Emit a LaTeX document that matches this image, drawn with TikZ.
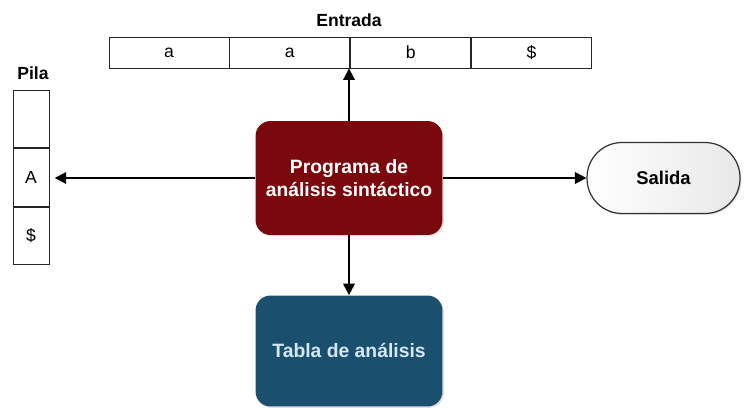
\documentclass[tikz,border=0pt]{standalone}
\usepackage{fontspec}
\setmainfont{Liberation Sans}
\usetikzlibrary{arrows.meta}
\usetikzlibrary{shadows}
\usetikzlibrary{positioning}
\definecolor{progred}{HTML}{7B080D}
\definecolor{tablablue}{HTML}{1A4F6E}
\definecolor{tablatext}{HTML}{D4E8F5}
\tikzset{cell/.style={draw=black!85, line width=0.5pt, inner sep=0pt, font=\fontsize{10}{12}\selectfont}}
\tikzset{block/.style={rounded corners=0.3cm, minimum width=3.74cm, minimum height=2.28cm, align=center, font=\bfseries\fontsize{11}{13.5}\selectfont, drop shadow={opacity=0.25, shadow xshift=0.8pt, shadow yshift=-0.8pt}}}
\tikzset{connect/.style={draw, line width=1.1pt, -{Triangle[length=6.5pt,width=6.5pt]}}}

\begin{document}
\begin{tikzpicture}[x=0.02cm, y=-0.02cm]
\useasboundingbox (0,0) rectangle (749,408);

%input tape
\node[cell, minimum width=2.4cm, minimum height=0.62cm] (e1) at (169,52.5) {a};
\node[cell, minimum width=2.4cm, minimum height=0.62cm, right=0pt of e1] (e2) {a};
\node[cell, minimum width=2.4cm, minimum height=0.62cm, right=0pt of e2] (e3) {b};
\node[cell, minimum width=2.4cm, minimum height=0.62cm, right=0pt of e3] (e4) {\$};
\node[font=\bfseries\fontsize{10}{12}\selectfont] (entrada) at (349,20) {Entrada};

%stack
\node[cell, minimum width=0.72cm, minimum height=1.15cm] (p1) at (31,119) {};
\node[cell, minimum width=0.72cm, minimum height=1.15cm, below=0pt of p1] (p2) {A};
\node[cell, minimum width=0.72cm, minimum height=1.15cm, below=0pt of p2] (p3) {\$};
\node[font=\bfseries\fontsize{10}{12}\selectfont] (pila) at (33,73) {Pila};

%blocks
\node[block, fill=progred, text=white] (prog) at (349,178) {Programa de\\análisis sintáctico};
\node[block, fill=tablablue, text=tablatext, minimum height=2.22cm] (tabla) at (349,351) {Tabla de análisis};
\node[block, draw=black!80, line width=0.7pt, rounded corners=0.7cm, minimum width=3.06cm, minimum height=1.42cm, left color=white, right color=gray!18, text=black, font=\bfseries\fontsize{10.5}{12}\selectfont] (salida) at (663.5,178) {Salida};

%connections
\path[connect] (prog.north) -- (prog.north |- e2.south);
\path[connect] (prog.west) -- ([xshift=3pt]prog.west -| p2.east);
\path[connect] (prog.east) -- (salida.west);
\path[connect] (prog.south) -- (tabla.north);

\end{tikzpicture}
\end{document}
